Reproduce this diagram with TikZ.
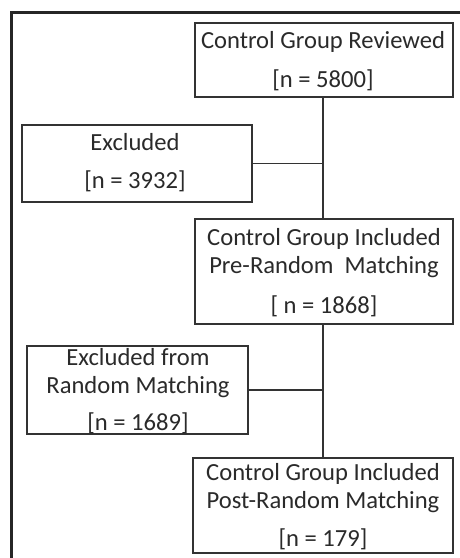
\documentclass[tikz,border=0pt]{standalone}
\usepackage{fontspec}
\setmainfont{Carlito}
\definecolor{ink}{HTML}{2A2A2A}
\definecolor{edge}{HTML}{333333}
\begin{document}
\begin{tikzpicture}[x=1pt,y=-1pt,
  box/.style={draw=edge,line width=1.6pt,rectangle,inner sep=0pt,fill=white},
  txt/.style={anchor=base,inner sep=0pt,text=ink,font=\fontsize{24.6}{29}\selectfont},
  link/.style={draw=edge,line width=1.6pt}]
\useasboundingbox (0,0) rectangle (460,558);
\clip (0,0) rectangle (460,558);
\fill[white] (0,0) rectangle (460,558);
% outer frame (cut by picture edge)
\draw[line width=3pt,draw=black!85] (11.5,580) -- (11.5,12) -- (480,12);
% boxes
\node[box,minimum width=258pt,minimum height=74pt] (b1) at (324,60) {};
\node[box,minimum width=230pt,minimum height=77pt] (ex1) at (137,163.5) {};
\node[box,minimum width=258pt,minimum height=105pt] (b3) at (324,271.5) {};
\node[box,minimum width=221pt,minimum height=88pt] (ex2) at (137.5,390) {};
\node[box,minimum width=260pt,minimum height=95pt] (b5) at (323,505.5) {};
% texts
\node[txt] (t1a) at (323,48) {Control Group Reviewed};
\node[txt] (t1b) at (323,87) {[n = 5800]};
\node[txt] (t2a) at (135,150) {Excluded};
\node[txt] (t2b) at (135,188) {[n = 3932]};
\node[txt] (t3a) at (324,245) {Control Group Included};
\node[txt] (t3b) at (324,273) {Pre-Random\ \ Matching};
\node[txt] (t3c) at (324,313) {[ n = 1868]};
\node[txt] (t4a) at (138,365) {Excluded from};
\node[txt] (t4b) at (138,393) {Random Matching};
\node[txt] (t4c) at (138,430) {[n = 1689]};
\node[txt] (t5a) at (323,480) {Control Group Included};
\node[txt] (t5b) at (323,508) {Post-Random Matching};
\node[txt] (t5c) at (323,546) {[n = 179]};
% connectors
\coordinate (j1) at (323,163.5);
\coordinate (j2) at (323,390);
\draw[link] (b1.south -| j1) -- (b3.north -| j1);
\draw[link] (ex1.east) -- (j1);
\draw[link] (b3.south -| j2) -- (b5.north -| j2);
\draw[link] (ex2.east) -- (j2);
\end{tikzpicture}
\end{document}
